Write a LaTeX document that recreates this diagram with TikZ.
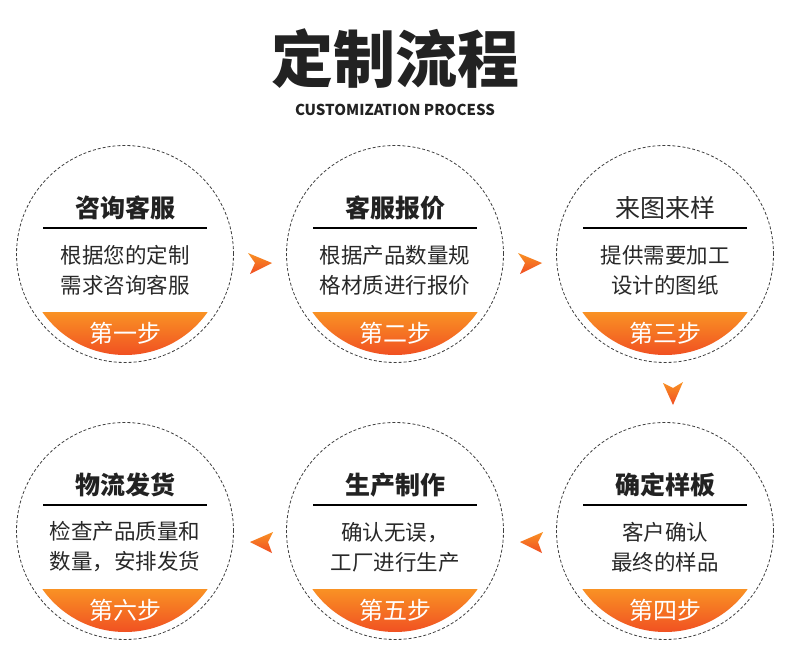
\documentclass[tikz,border=0pt]{standalone}
\usepackage{fontspec}
\setmainfont{Noto Sans CJK SC}
\definecolor{bandtop}{RGB}{249,146,36}
\definecolor{bandbot}{RGB}{240,76,34}
\definecolor{ink}{RGB}{34,34,34}
\definecolor{bodyink}{RGB}{40,40,40}
\tikzset{
  ring/.style={draw=black!75, dash pattern=on 3pt off 2pt, line width=0.8pt, circle, minimum size=217pt, inner sep=0pt},
  ctitle/.style={font=\fontsize{25}{25}\selectfont\bfseries, text=ink, inner sep=0pt},
  ctitlelight/.style={font=\fontsize{25}{25}\selectfont, text=bodyink, inner sep=0pt},
  cbody/.style={font=\fontsize{21.5}{30}\selectfont, text=bodyink, align=center, inner sep=0pt},
  cstep/.style={font=\fontsize{24}{24}\selectfont, text=white, inner sep=0pt},
  titlerule/.style={line width=1.3pt, black},
  dart/.style={top color=bandtop, bottom color=bandbot, draw=none}
}
\newcommand\flowstep[7]{%
  \node[ring] (#1) at (#2,#3) {};
  \begin{scope}
    \clip (#2,#3) circle (101pt);
    \shade[top color=bandtop, bottom color=bandbot] (#2-103,#3+58) rectangle (#2+103,#3+104);
  \end{scope}
  \node[#7] (#1t) at (#2,#3-46) {#4};
  \coordinate (#1a) at (#2-82,#3-26);
  \coordinate (#1b) at (#2+82,#3-26);
  \draw[titlerule] (#1a) -- (#1b);
  \node[cbody] (#1d) at (#2,#3+16) {#5};
  \node[cstep] (#1s) at (#2,#3+79) {#6};
}
\begin{document}
\begin{tikzpicture}[x=1pt,y=-1pt]
\useasboundingbox[fill=white] (0,0) rectangle (790,669);
\node[font=\fontsize{62}{62}\selectfont\bfseries, text=ink, inner sep=0pt] (title) at (395,59) {定制流程};
\node[font=\fontsize{15}{15}\selectfont\bfseries, text=ink, inner sep=0pt] (subtitle) at (395,110) {CUSTOMIZATION PROCESS};

\flowstep{s1}{125}{254}{咨询客服}{根据您的定制\\需求咨询客服}{第一步}{ctitle}
\flowstep{s2}{395}{254}{客服报价}{根据产品数量规\\格材质进行报价}{第二步}{ctitle}
\flowstep{s3}{665}{254}{来图来样}{提供需要加工\\设计的图纸}{第三步}{ctitlelight}
\flowstep{s4}{665}{531}{确定样板}{客户确认\\最终的样品}{第四步}{ctitle}
\flowstep{s5}{395}{531}{生产制作}{确认无误，\\工厂进行生产}{第五步}{ctitle}
\flowstep{s6}{125}{531}{物流发货}{检查产品质量和\\数量，安排发货}{第六步}{ctitle}

% darts between the steps
\shade[dart] (272,263) -- (248,253) -- (255,263) -- (250,274) -- cycle;
\shade[dart] (542,263) -- (518,253) -- (525,263) -- (520,274) -- cycle;
\shade[dart] (673,405) -- (663,383) -- (673,388) -- (683,382) -- cycle;
\shade[dart] (520,542) -- (543,532) -- (538,542) -- (542,553) -- cycle;
\shade[dart] (250,542) -- (273,532) -- (268,542) -- (272,553) -- cycle;
\end{tikzpicture}
\end{document}
